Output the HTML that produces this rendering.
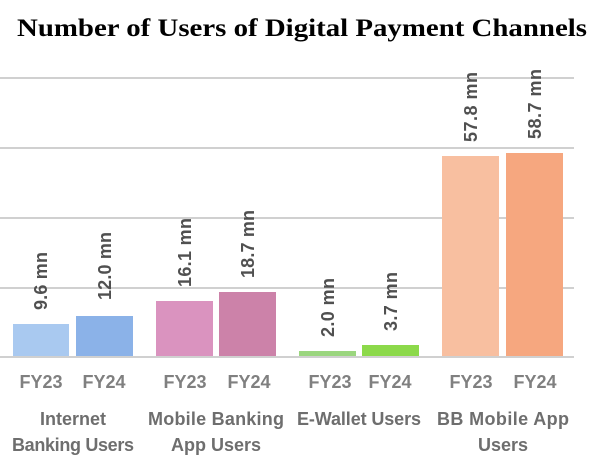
<!DOCTYPE html>
<html><head><meta charset="utf-8"><style>
html,body{margin:0;padding:0;background:#fff;}
svg{display:block;}
</style></head><body>
<svg width="604" height="470" viewBox="0 0 604 470" xmlns="http://www.w3.org/2000/svg">
<rect width="604" height="470" fill="#fff"/>
<text x="302" y="36" text-anchor="middle" font-family="Liberation Serif, serif" font-weight="bold" font-size="25" fill="#000" textLength="570" lengthAdjust="spacingAndGlyphs">Number of Users of Digital Payment Channels</text>
<g stroke="#d0d0d0" stroke-width="2">
<line x1="0" x2="574" y1="78" y2="78"/>
<line x1="0" x2="574" y1="148" y2="148"/>
<line x1="0" x2="574" y1="218" y2="218"/>
<line x1="0" x2="574" y1="288" y2="288"/>
<line x1="0" x2="574" y1="357" y2="357"/>
</g>
<rect x="13" y="324" width="56" height="32" fill="#a9c9f0"/>
<rect x="76" y="316" width="57" height="40" fill="#8bb2e8"/>
<rect x="156" y="301" width="57" height="55" fill="#da93bf"/>
<rect x="219" y="292" width="57" height="64" fill="#cc82a9"/>
<rect x="299" y="351" width="57" height="5" fill="#9bd67f"/>
<rect x="362" y="345" width="57" height="11" fill="#8cd94a"/>
<rect x="442" y="156" width="57" height="200" fill="#f8bfa0"/>
<rect x="506" y="153" width="57" height="203" fill="#f6a77f"/>
<g font-family="Liberation Sans, sans-serif" font-weight="bold" font-size="18" fill="#505050" lengthAdjust="spacingAndGlyphs">
<text transform="translate(47,310) rotate(-90)" textLength="58">9.6 mn</text>
<text transform="translate(111,300) rotate(-90)" textLength="68">12.0 mn</text>
<text transform="translate(191,287) rotate(-90)" textLength="69">16.1 mn</text>
<text transform="translate(254,278) rotate(-90)" textLength="68">18.7 mn</text>
<text transform="translate(334,337) rotate(-90)" textLength="59">2.0 mn</text>
<text transform="translate(397,331) rotate(-90)" textLength="59">3.7 mn</text>
<text transform="translate(477,142) rotate(-90)" textLength="70">57.8 mn</text>
<text transform="translate(541,139) rotate(-90)" textLength="70">58.7 mn</text>
</g>
<g font-family="Liberation Sans, sans-serif" font-weight="bold" font-size="18" fill="#808080" text-anchor="middle">
<text x="41" y="388">FY23</text><text x="104" y="388">FY24</text>
<text x="185" y="388">FY23</text><text x="249" y="388">FY24</text>
<text x="330" y="388">FY23</text><text x="390" y="388">FY24</text>
<text x="471" y="388">FY23</text><text x="535" y="388">FY24</text>
</g>
<g font-family="Liberation Sans, sans-serif" font-weight="bold" font-size="18" fill="#6e6e6e" text-anchor="middle">
<text x="73" y="425">Internet</text><text x="73" y="451" textLength="122">Banking Users</text>
<text x="216" y="425" textLength="136">Mobile Banking</text><text x="216" y="451">App Users</text>
<text x="359" y="425" textLength="124">E-Wallet Users</text>
<text x="503" y="425" textLength="132">BB Mobile App</text><text x="503" y="451">Users</text>
</g>
</svg>
</body></html>
